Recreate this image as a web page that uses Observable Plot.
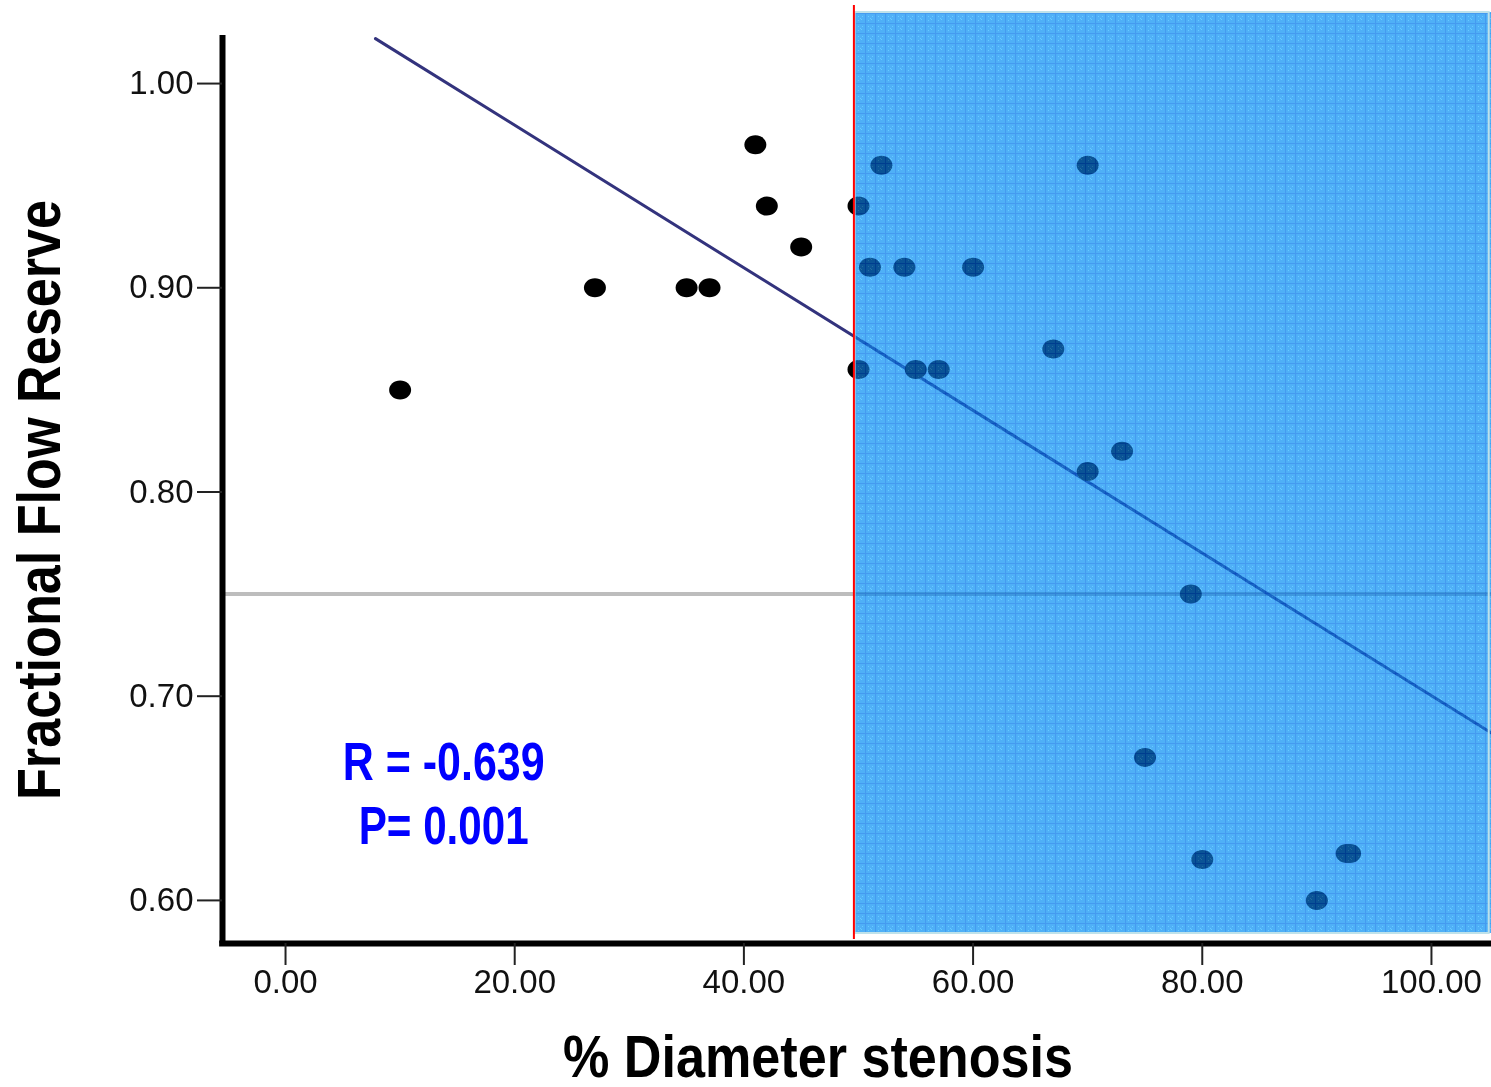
<!DOCTYPE html>
<html>
<head>
<meta charset="utf-8">
<script src="https://cdn.jsdelivr.net/npm/d3@7"></script>
<script src="https://cdn.jsdelivr.net/npm/@observablehq/plot@0.6"></script>
<style>
  html, body { margin: 0; padding: 0; background: #fff; }
  #chart svg { display: block; }
</style>
</head>
<body>
<div id="chart"></div>
<script>
// Data
const stenosis = [10, 27, 35, 37, 41, 42, 45, 50, 50, 51, 52, 54, 55, 57, 60, 67, 70, 70, 73, 75, 79, 80, 90, 92.6, 92.9];
const ffr      = [0.85, 0.90, 0.90, 0.90, 0.97, 0.94, 0.92, 0.94, 0.86, 0.91, 0.96, 0.91, 0.86, 0.86, 0.91, 0.87, 0.96, 0.81, 0.82, 0.67, 0.75, 0.62, 0.60, 0.623, 0.623];
const xTicks = [0, 20, 40, 60, 80, 100];
const yTicks = [0.60, 0.70, 0.80, 0.90, 1.00];
const fitX = [7.85, 105.24];
const fitY = [1.022, 0.682];
const thresholdFFR = 0.75;
const stenosisCut = 49.6;
const statsText = ["R = -0.639", "P= 0.001"];
const xTitle = "% Diameter stenosis";
const yTitle = "Fractional Flow Reserve";

const xDomain = [-5.5, 105.24];
const yDomain = [0.5789, 1.0348];

const points = stenosis.map((x, i) => ({x, y: ffr[i]}));
const fit = fitX.map((x, i) => ({x, y: fitY[i]}));

const ellipse = {
  draw(ctx) {
    const rx = 11, ry = 9.5, k = 0.5523;
    ctx.moveTo(rx, 0);
    ctx.bezierCurveTo(rx, ry * k, rx * k, ry, 0, ry);
    ctx.bezierCurveTo(-rx * k, ry, -rx, ry * k, -rx, 0);
    ctx.bezierCurveTo(-rx, -ry * k, -rx * k, -ry, 0, -ry);
    ctx.bezierCurveTo(rx * k, -ry, rx, -ry * k, rx, 0);
    ctx.closePath();
  }
};

const bold = "'Liberation Sans', Arial, Helvetica, sans-serif";
const regionY1 = 0.5838;

const svg = Plot.plot({
  width: 1491,
  height: 1087,
  marginLeft: 222,
  marginRight: 0,
  marginTop: 12,
  marginBottom: 144,
  style: {background: "#fff", overflow: "visible"},
  x: {domain: xDomain, axis: null},
  y: {domain: yDomain, axis: null},
  marks: [
    Plot.ruleY([thresholdFFR], {x1: xDomain[0], x2: xDomain[1], stroke: "#bdbdbd", strokeWidth: 4}),
    Plot.line(fit, {x: "x", y: "y", stroke: "#33337d", strokeWidth: 3}),
    Plot.dot(points, {x: "x", y: "y", symbol: ellipse, fill: "#000", stroke: "none"}),
    Plot.rect([{}], {x1: stenosisCut, x2: xDomain[1], y1: regionY1, y2: yDomain[1], fill: "url(#gridpat)", fillOpacity: 0.62}),
    Plot.rect([{}], {x1: stenosisCut, x2: xDomain[1], y1: regionY1, y2: yDomain[1], fill: "rgb(180,244,255)", mixBlendMode: "multiply"}),
    Plot.rect([{}], {x1: stenosisCut + 0.1, x2: xDomain[1] - 0.2, y1: regionY1, y2: yDomain[1], fill: "none", stroke: "#bfe2ea", strokeWidth: 2}),
    Plot.ruleX([stenosisCut], {y1: 0.5808, y2: 1.0382, stroke: "#ff0000", strokeWidth: 2}),
    Plot.ruleX([xDomain[0]], {y1: 1.0235, y2: yDomain[0], stroke: "#000", strokeWidth: 6}),
    Plot.ruleY([yDomain[0]], {x1: xDomain[0] - 0.25, x2: xDomain[1], stroke: "#000", strokeWidth: 6}),
    Plot.axisX({ticks: xTicks, tickFormat: d3.format(".2f"), label: null, tickSize: 22, tickPadding: 4, fontSize: 33, stroke: "#222", strokeWidth: 2, fill: "#111", fontFamily: bold}),
    Plot.axisY({ticks: yTicks, tickFormat: d3.format(".2f"), label: null, tickSize: 25, tickPadding: 4, fontSize: 33, stroke: "#222", strokeWidth: 2, fill: "#111", fontFamily: bold}),
    Plot.text(statsText, {x: 13.8, y: [0.6676, 0.6362], text: d => d, fill: "#0000ff", fontSize: 54, fontWeight: "bold", fontFamily: bold, textAnchor: "middle"}),
    Plot.text([xTitle], {frameAnchor: "bottom", dx: -39, dy: 133, fontSize: 60, fontWeight: "bold", fontFamily: bold, fill: "#000", textAnchor: "middle"}),
    Plot.text([yTitle], {frameAnchor: "left", dx: -182, dy: 22, rotate: -90, fontSize: 61, fontWeight: "bold", fontFamily: bold, fill: "#000", textAnchor: "middle"})
  ]
});

// condensed look: squeeze bold texts to the widths seen in the reference
const widths = {};
widths[xTitle] = 510;
widths[yTitle] = 600;
widths[statsText[0]] = 202;
widths[statsText[1]] = 170;
svg.querySelectorAll("text").forEach(t => {
  const w = widths[t.textContent];
  if (w) { t.setAttribute("textLength", w); t.setAttribute("lengthAdjust", "spacingAndGlyphs"); }
  t.querySelectorAll("tspan").forEach(s => {
    const w2 = widths[s.textContent];
    if (w2) { s.setAttribute("textLength", w2); s.setAttribute("lengthAdjust", "spacingAndGlyphs"); }
  });
});

const ns = "http://www.w3.org/2000/svg";
const defs = document.createElementNS(ns, "defs");
defs.innerHTML = `
  <pattern id="gridpat" patternUnits="userSpaceOnUse" width="10" height="10" x="855" y="13">
    <rect width="10" height="10" fill="rgb(22,140,242)"/>
    <rect x="3" y="3" width="1" height="1" fill="rgb(80,185,255)"/>
    <rect x="6" y="6" width="1" height="1" fill="rgb(80,185,255)"/>
    <rect x="3" y="7" width="1" height="1" fill="rgb(80,185,255)"/>
    <rect x="7" y="3" width="1" height="1" fill="rgb(80,185,255)"/>
    <rect x="5" y="5" width="1" height="1" fill="rgb(80,185,255)"/>
    <path d="M0 0.5 H10 M0.5 0 V10" stroke="rgb(0,105,230)" stroke-width="1.2"/>
  </pattern>`;
svg.insertBefore(defs, svg.firstChild);
document.getElementById("chart").appendChild(svg);
</script>
</body>
</html>
